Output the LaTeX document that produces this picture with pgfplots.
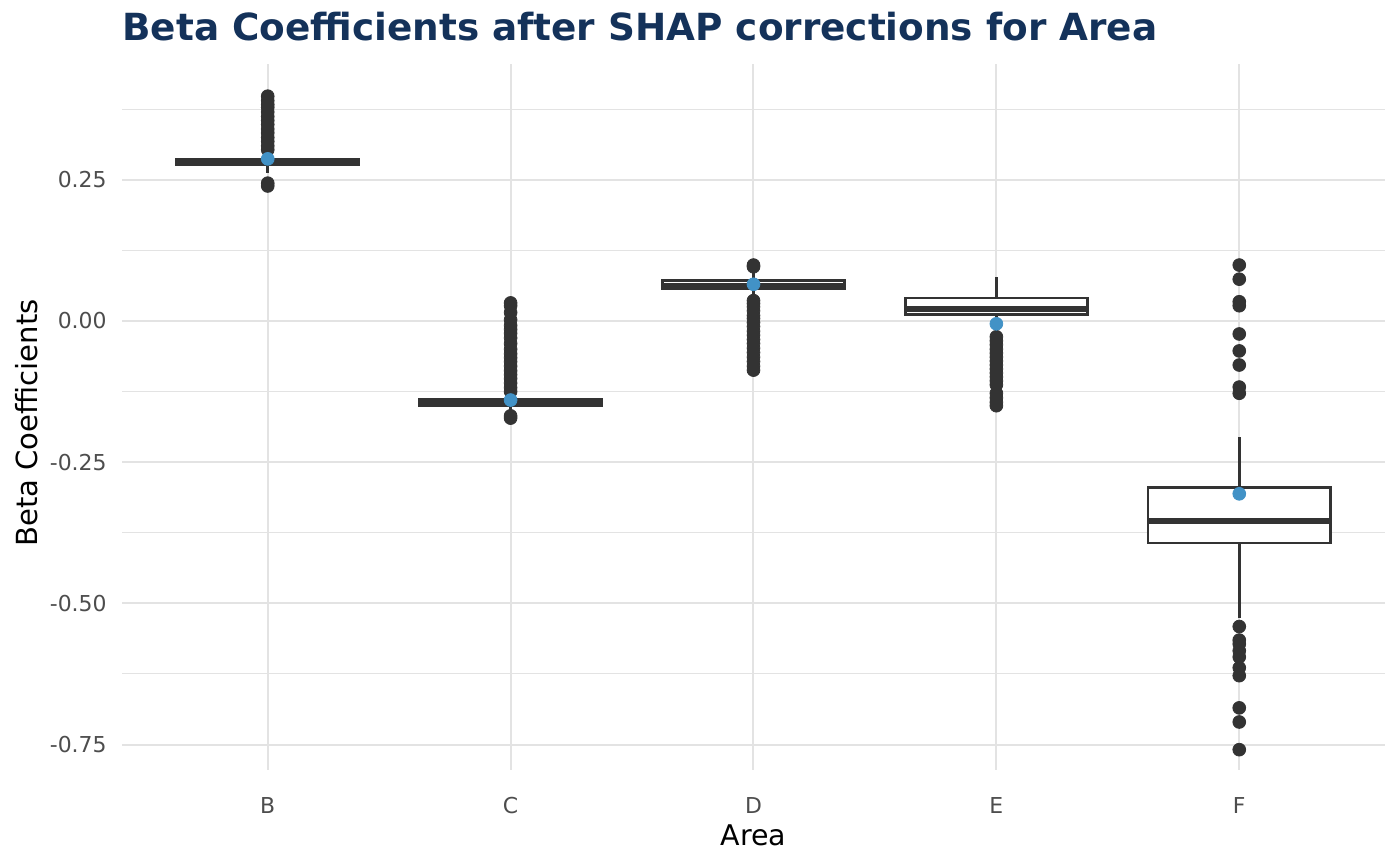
\documentclass[border=0pt]{standalone}
\usepackage{pgfplots}
\pgfplotsset{compat=1.18}
\usepackage{fontspec}
\setmainfont{DejaVu Sans}

\definecolor{boxc}{HTML}{333333}
\definecolor{meanc}{HTML}{4292C6}
\definecolor{titlec}{HTML}{14325A}
\definecolor{gridc}{HTML}{E3E3E3}
\definecolor{tickc}{HTML}{4D4D4D}

\pgfplotsset{
    whisk/.style={draw=boxc, line width=1.3bp},
    box/.style={draw=boxc, fill=white, line width=1.3bp},
    med/.style={draw=boxc, line width=2.7bp},
    outl/.style={only marks, mark=*, mark size=3.2bp, draw=boxc, fill=boxc},
}

\begin{document}
\begin{tikzpicture}
\useasboundingbox (-61bp,-48bp) rectangle (639bp,385bp);
\begin{axis}[
    at={(0,0)}, anchor=south west,
    scale only axis,
    width=631.5bp, height=353bp,
    xmin=0.4, xmax=5.6,
    ymin=-0.795, ymax=0.455,
    xtick={1,2,3,4,5},
    xticklabels={B,C,D,E,F},
    ytick={-0.75,-0.5,-0.25,0,0.25},
    yticklabels={-0.75,-0.50,-0.25,0.00,0.25},
    minor ytick={-0.625,-0.375,-0.125,0.125,0.375},
    xmajorgrids, ymajorgrids, yminorgrids,
    major grid style={draw=gridc, line width=1bp},
    minor grid style={draw=gridc, line width=0.5bp},
    axis line style={draw=none},
    major tick length=0pt, minor tick length=0pt,
    xticklabel style={font=\fontsize{11}{13}\selectfont, text=tickc, anchor=base, inner sep=0pt, yshift=-21.5bp},
    yticklabel style={font=\fontsize{11}{13}\selectfont, text=tickc, anchor=east, inner sep=0pt, xshift=-7.5bp},
]

% ---- B ----
\addplot[whisk] coordinates {(1,0.262) (1,0.2765)};
\addplot[whisk] coordinates {(1,0.2855) (1,0.298)};
\addplot[box] coordinates {(0.625,0.2765) (1.375,0.2765) (1.375,0.2855) (0.625,0.2855)} -- cycle;
\addplot[med] coordinates {(0.625,0.281) (1.375,0.281)};
\addplot[outl] coordinates {
    (1,0.398) (1,0.390) (1,0.383) (1,0.378) (1,0.370) (1,0.362) (1,0.355)
    (1,0.348) (1,0.340) (1,0.333) (1,0.325) (1,0.318) (1,0.310) (1,0.303)
    (1,0.244) (1,0.239)
};

% ---- C ----
\addplot[whisk] coordinates {(2,-0.160) (2,-0.150)};
\addplot[whisk] coordinates {(2,-0.139) (2,-0.128)};
\addplot[box] coordinates {(1.625,-0.150) (2.375,-0.150) (2.375,-0.139) (1.625,-0.139)} -- cycle;
\addplot[med] coordinates {(1.625,-0.1445) (2.375,-0.1445)};
\addplot[outl] coordinates {
    (2,0.032) (2,0.027) (2,0.015) (2,0.002) (2,-0.008) (2,-0.015) (2,-0.022)
    (2,-0.030) (2,-0.040) (2,-0.050) (2,-0.058) (2,-0.065) (2,-0.072) (2,-0.080)
    (2,-0.088) (2,-0.095) (2,-0.102) (2,-0.110) (2,-0.118) (2,-0.125)
    (2,-0.168) (2,-0.172)
};

% ---- D ----
\addplot[whisk] coordinates {(3,0.042) (3,0.057)};
\addplot[whisk] coordinates {(3,0.072) (3,0.087)};
\addplot[box] coordinates {(2.625,0.057) (3.375,0.057) (3.375,0.072) (2.625,0.072)} -- cycle;
\addplot[med] coordinates {(2.625,0.063) (3.375,0.063)};
\addplot[outl] coordinates {
    (3,0.099) (3,0.096)
    (3,0.036) (3,0.031) (3,0.025) (3,0.018) (3,0.010) (3,0.004) (3,-0.003)
    (3,-0.010) (3,-0.018) (3,-0.025) (3,-0.033) (3,-0.040) (3,-0.048)
    (3,-0.056) (3,-0.064) (3,-0.072) (3,-0.080) (3,-0.087)
};

% ---- E ----
\addplot[whisk] coordinates {(4,-0.018) (4,0.011)};
\addplot[whisk] coordinates {(4,0.041) (4,0.078)};
\addplot[box] coordinates {(3.625,0.011) (4.375,0.011) (4.375,0.041) (3.625,0.041)} -- cycle;
\addplot[med] coordinates {(3.625,0.021) (4.375,0.021)};
\addplot[outl] coordinates {
    (4,-0.028) (4,-0.035) (4,-0.042) (4,-0.050) (4,-0.057) (4,-0.064)
    (4,-0.071) (4,-0.078) (4,-0.085) (4,-0.092) (4,-0.099) (4,-0.106)
    (4,-0.113) (4,-0.128) (4,-0.136) (4,-0.144) (4,-0.150)
};

% ---- F ----
\addplot[whisk] coordinates {(5,-0.526) (5,-0.393)};
\addplot[whisk] coordinates {(5,-0.295) (5,-0.205)};
\addplot[box] coordinates {(4.625,-0.393) (5.375,-0.393) (5.375,-0.295) (4.625,-0.295)} -- cycle;
\addplot[med] coordinates {(4.625,-0.354) (5.375,-0.354)};
\addplot[outl] coordinates {
    (5,0.099) (5,0.074) (5,0.034) (5,0.027) (5,-0.023) (5,-0.053) (5,-0.078)
    (5,-0.117) (5,-0.128)
    (5,-0.541) (5,-0.565) (5,-0.572) (5,-0.584) (5,-0.595) (5,-0.614)
    (5,-0.628) (5,-0.685) (5,-0.710) (5,-0.759)
};

% means
\addplot[only marks, mark=*, mark size=3.2bp, draw=meanc, fill=meanc] coordinates {
    (1,0.287) (2,-0.140) (3,0.065) (4,-0.005) (5,-0.306)
};
\end{axis}

\node[anchor=base west, inner sep=0pt, text=titlec,
      font=\bfseries\fontsize{18.75}{22}\selectfont] at (0bp,364.5bp)
      {Beta Coefficients after SHAP corrections for Area};
\node[anchor=base, inner sep=0pt, font=\fontsize{14.3}{16}\selectfont]
      at (315.75bp,-37.5bp) {Area};
\node[anchor=base, rotate=90, inner sep=0pt, font=\fontsize{14.6}{16}\selectfont]
      at (-42bp,173.5bp) {Beta Coefficients};
\end{tikzpicture}
\end{document}
